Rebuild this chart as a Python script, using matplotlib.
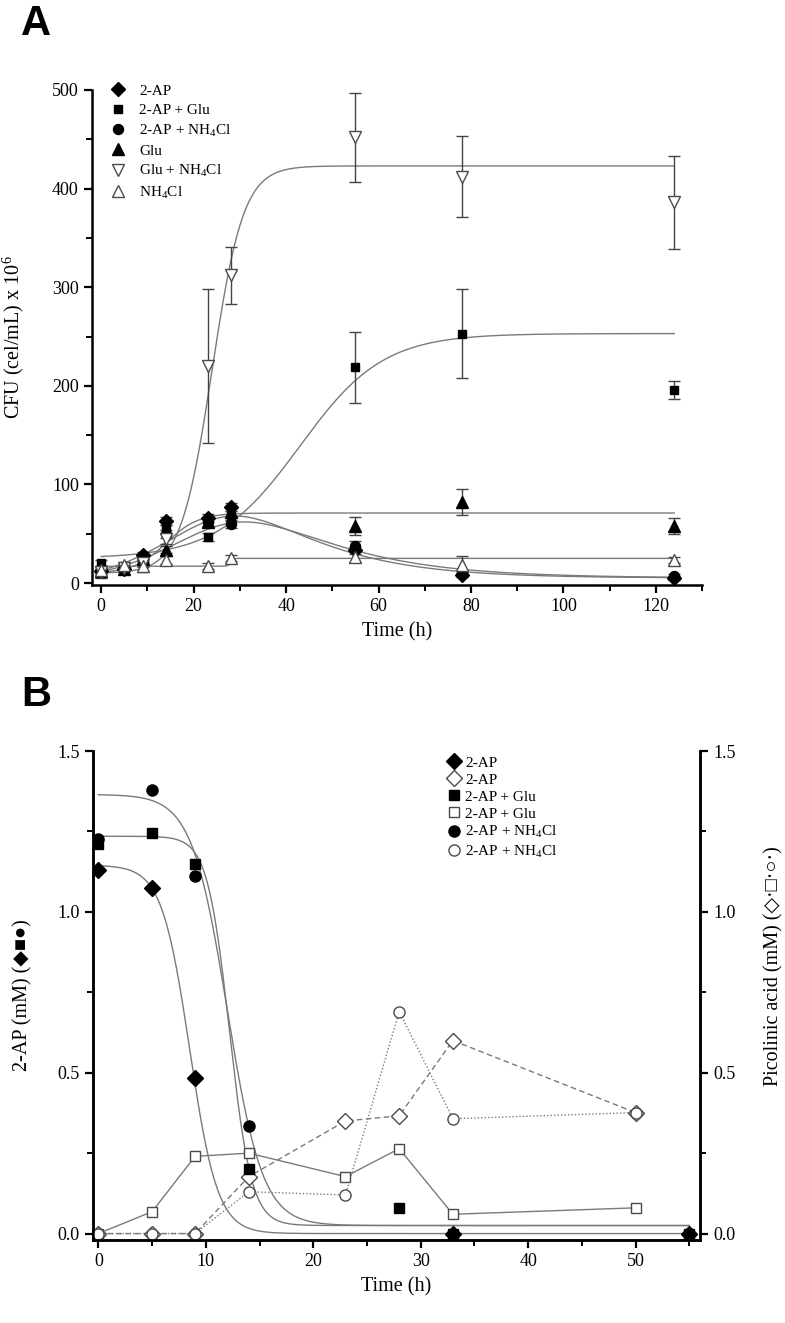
import numpy as np
import matplotlib
matplotlib.use("Agg")
import matplotlib.pyplot as plt
from matplotlib.ticker import MultipleLocator, FormatStrFormatter

plt.rcParams['font.family'] = ['Liberation Serif', 'DejaVu Sans']
plt.rcParams['mathtext.fontset'] = 'custom'
plt.rcParams['mathtext.rm'] = 'Liberation Serif'
plt.rcParams['mathtext.it'] = 'Liberation Serif:italic'
plt.rcParams['mathtext.bf'] = 'Liberation Serif:bold'

# ---------------- Panel A data ----------------
time_a = [0, 5, 9, 14, 23, 28, 55, 78, 124]
ap = [12, 14, 28, 63, 66, 77, 33, 8, 5]
ap_err = [2, 2, 3, 4, 4, 4, 4, 2, 2]
ap_glu = [20, 14, 22, 55, 47, 68, 219, 253, 196]
ap_glu_err = [3, 2, 3, 4, 4, 5, 36, 45, 9]
ap_nh4 = [12, 14, 24, 50, 62, 60, 38, 10, 7]
ap_nh4_err = [2, 2, 3, 4, 4, 4, 5, 2, 2]
glu = [12, 14, 24, 34, 62, 72, 58, 82, 58]
glu_err = [2, 2, 3, 4, 4, 4, 9, 13, 8]
glu_nh4 = [11, 15, 20, 45, 220, 312, 452, 412, 386]
glu_nh4_err = [6, 3, 4, 5, 78, 29, 45, 41, 47]
nh4 = [13, 18, 17, 23, 17, 25, 26, 18, 23]
nh4_err = [3, 3, 6, 4, 3, 3, 5, 9, 3]

# fitted-curve parameters
# Boltzmann: A1, A2, x0, dx
fit_glu_nh4 = [10, 423, 24, 3.4]
fit_ap_glu = [25, 253, 43, 9]
fit_glu = [10, 71, 14, 3.5]
fit_nh4 = [17, 25, 28, 0.3]
# asymmetric peak: y0, A, xc, left width, right log-width
fit_ap = [5, 63, 29, 14.3, 0.466]
fit_ap_nh4 = [5, 57, 31, 15.0, 0.48]

# ---------------- Panel B data ----------------
b_ap_t = [0, 5, 9, 33, 55]
b_ap = [1.13, 1.075, 0.485, 0.0, 0.0]
b_glu_t = [0, 5, 9, 14, 28, 33, 55]
b_glu = [1.21, 1.245, 1.15, 0.20, 0.078, 0.0, 0.0]
b_nh4_t = [0, 5, 9, 14, 33, 55]
b_nh4 = [1.227, 1.38, 1.11, 0.335, 0.0, 0.0]

pic_t = [0, 5, 9, 14, 23, 28, 33, 50]
pic_ap = [0, 0, 0, 0.177, 0.35, 0.366, 0.60, 0.376]
pic_glu = [0, 0.068, 0.24, 0.25, 0.177, 0.264, 0.06, 0.08]
pic_nh4 = [0, 0, 0, 0.13, 0.12, 0.69, 0.357, 0.376]

fitb_ap = [1.145, 0.0, 8.5, 1.3]
fitb_glu = [1.235, 0.025, 12.2, 1.03]
fitb_nh4 = [1.365, 0.025, 12.0, 1.65]


def boltz(x, p):
    a1, a2, x0, dx = p
    return a2 + (a1 - a2) / (1 + np.exp((x - x0) / dx))


def peak(x, p):
    y0, a, xc, wl, wr = p
    x = np.asarray(x, float)
    left = y0 + a * np.exp(-(x - xc) ** 2 / (2 * wl ** 2))
    xs = np.clip(x, 1e-6, None)
    right = y0 + a * np.exp(-(np.log(xs / xc)) ** 2 / (2 * wr ** 2))
    return np.where(x < xc, left, right)


W, H = 785, 1323
fig = plt.figure(figsize=(W / 100, H / 100), dpi=100)

LINE = '#7a7a7a'
EDGE = '#4a4a4a'
TICKFS = 13
LABFS = 14.5


def style_axes(ax):
    for s in ax.spines.values():
        s.set_linewidth(1.8)
    ax.tick_params(which='major', direction='out', length=6, width=1.6, labelsize=TICKFS)
    ax.tick_params(which='minor', direction='out', length=4, width=1.4)


# ================= Panel A =================
axA = fig.add_axes([92 / W, 1 - 585 / H, 610 / W, 495 / H])
axA.spines['top'].set_visible(False)
axA.spines['right'].set_visible(False)
style_axes(axA)
axA.set_xlim(-2, 130)
axA.set_ylim(-2, 500)
axA.xaxis.set_major_locator(MultipleLocator(20))
axA.xaxis.set_minor_locator(MultipleLocator(10))
axA.yaxis.set_major_locator(MultipleLocator(100))
axA.yaxis.set_minor_locator(MultipleLocator(50))

xf = np.linspace(0, 124, 600)
for y in (boltz(xf, fit_glu_nh4), boltz(xf, fit_ap_glu), boltz(xf, fit_glu),
          boltz(xf, fit_nh4), peak(xf, fit_ap), peak(xf, fit_ap_nh4)):
    axA.plot(xf, y, color=LINE, lw=1.0, zorder=2)

series_a = [
    (ap, ap_err, 'D', 'k', 'k', 7.0, '2-AP'),
    (ap_glu, ap_glu_err, 's', 'k', 'k', 6.2, '2-AP + Glu'),
    (ap_nh4, ap_nh4_err, 'o', 'k', 'k', 7.2, '2-AP + NH$_4$Cl'),
    (glu, glu_err, '^', 'k', 'k', 8.5, 'Glu'),
    (glu_nh4, glu_nh4_err, 'v', 'white', EDGE, 8.8, 'Glu + NH$_4$Cl'),
    (nh4, nh4_err, '^', 'white', EDGE, 8.8, 'NH$_4$Cl'),
]
handles = []
for vals, err, m, fc, ec, ms, lab in series_a:
    axA.errorbar(time_a, vals, yerr=err, fmt='none', ecolor='#444444',
                 elinewidth=1.0, capsize=4.5, capthick=1.0, zorder=3)
    h = axA.plot(time_a, vals, linestyle='none', marker=m, ms=ms, mfc=fc,
                 mec=ec, mew=1.0, zorder=4, label=lab)[0]
    handles.append(h)

axA.legend(handles=handles, loc='upper left', bbox_to_anchor=(0.03, 1.012),
           frameon=False, fontsize=11, handlelength=1.0, handletextpad=0.9,
           labelspacing=0.36, borderpad=0, borderaxespad=0)
axA.set_xlabel('Time (h)', fontsize=LABFS, labelpad=5)
axA.set_ylabel('CFU (cel/mL) x 10$^6$', fontsize=LABFS)
axA.yaxis.set_label_coords(-0.108, 0.5)

# ================= Panel B =================
axB = fig.add_axes([93 / W, 1 - 1240 / H, 607 / W, 489 / H])
axB.spines['top'].set_visible(False)
style_axes(axB)
axB.set_xlim(-0.5, 56)
axB.set_ylim(-0.02, 1.5)
axB.xaxis.set_major_locator(MultipleLocator(10))
axB.xaxis.set_minor_locator(MultipleLocator(5))
axB.yaxis.set_major_locator(MultipleLocator(0.5))
axB.yaxis.set_minor_locator(MultipleLocator(0.25))
axB.yaxis.set_major_formatter(FormatStrFormatter('%.1f'))

axR = axB.twinx()
axR.set_ylim(axB.get_ylim())
axR.spines['top'].set_visible(False)
style_axes(axR)
axR.yaxis.set_major_locator(MultipleLocator(0.5))
axR.yaxis.set_minor_locator(MultipleLocator(0.25))
axR.yaxis.set_major_formatter(FormatStrFormatter('%.1f'))

xb = np.linspace(0, 55, 600)
for p in (fitb_ap, fitb_glu, fitb_nh4):
    axB.plot(xb, boltz(xb, p), color=LINE, lw=1.0, zorder=2)

axB.plot(pic_t, pic_ap, color=LINE, lw=1.0, ls=(0, (4, 2.5)), zorder=2)
axB.plot(pic_t, pic_glu, color=LINE, lw=1.0, ls='-', zorder=2)
axB.plot(pic_t, pic_nh4, color=LINE, lw=1.0, ls=(0, (1, 1.5)), zorder=2)

hB = []
hB.append(axB.plot(b_ap_t, b_ap, ls='none', marker='D', ms=8.0, mfc='k', mec='k', zorder=5, label='2-AP')[0])
hB.append(axB.plot(pic_t, pic_ap, ls='none', marker='D', ms=8.0, mfc='white', mec=EDGE, mew=1.0, zorder=4, label='2-AP')[0])
hB.append(axB.plot(b_glu_t, b_glu, ls='none', marker='s', ms=7.0, mfc='k', mec='k', zorder=5, label='2-AP + Glu')[0])
hB.append(axB.plot(pic_t, pic_glu, ls='none', marker='s', ms=7.0, mfc='white', mec=EDGE, mew=1.0, zorder=4, label='2-AP + Glu')[0])
hB.append(axB.plot(b_nh4_t, b_nh4, ls='none', marker='o', ms=8.0, mfc='k', mec='k', zorder=5, label='2-AP + NH$_4$Cl')[0])
hB.append(axB.plot(pic_t, pic_nh4, ls='none', marker='o', ms=8.0, mfc='white', mec=EDGE, mew=1.0, zorder=4, label='2-AP + NH$_4$Cl')[0])

axB.legend(handles=hB, loc='upper left', bbox_to_anchor=(0.585, 0.99),
           frameon=False, fontsize=11, handlelength=0.8, handletextpad=0.3,
           labelspacing=0.22, borderpad=0, borderaxespad=0)
axB.set_xlabel('Time (h)', fontsize=LABFS, labelpad=5)
axB.set_ylabel('2-AP (mM) (\u25c6\u25a0\u25cf)', fontsize=LABFS,
               family=['Liberation Serif', 'DejaVu Sans'])
axB.yaxis.set_label_coords(-0.1, 0.5)
axR.set_ylabel('Picolinic acid (mM) (\u25c7\u00b7\u25a1\u00b7\u25cb\u00b7)', fontsize=LABFS,
               family=['Liberation Serif', 'DejaVu Sans'], rotation=90)
axR.yaxis.set_label_coords(1.105, 0.56)

# Panel letters
fig.text(21 / W, 1 - 35 / H, 'A', fontsize=30, fontweight='bold',
         family='Liberation Sans', ha='left', va='baseline')
fig.text(21 / W, 1 - 706 / H, 'B', fontsize=30, fontweight='bold',
         family='Liberation Sans', ha='left', va='baseline')

fig.savefig('out.png', dpi=100)
